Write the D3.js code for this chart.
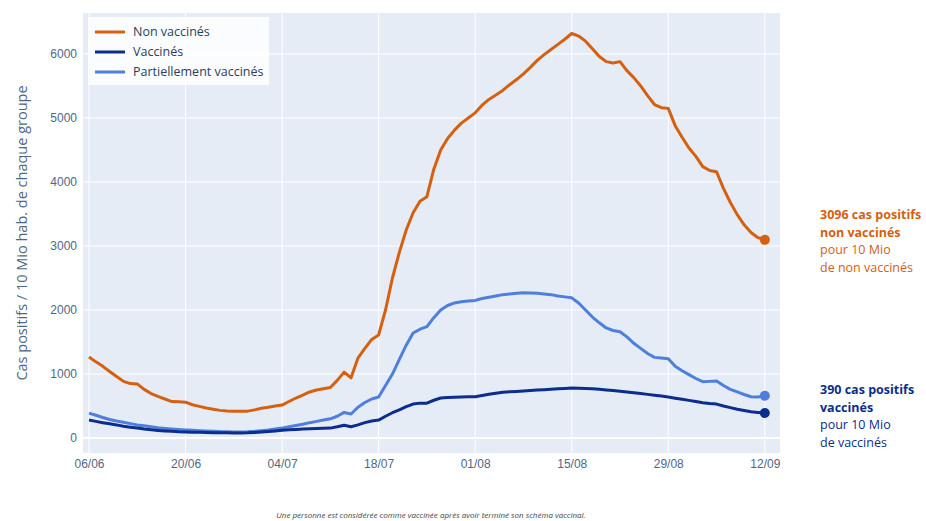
<!DOCTYPE html>
<html>
<head>
<meta charset="utf-8">
<script src="https://cdn.jsdelivr.net/npm/d3@7"></script>
<style>
  body { margin: 0; background: #fff; }
  svg { font-family: "Open Sans", "Noto Sans", sans-serif; }
  .axis text { fill: #506784; font-size: 12px; }
  .axis path, .axis line { display: none; }
  .grid line { stroke: #fff; stroke-width: 1; }
</style>
</head>
<body>
<svg id="chart"></svg>
<script>
// data, one value per day from 06/06 to 12/09 (2021)
const startDate = new Date(2021, 5, 6);
const tickLabels = ['06/06', '20/06', '04/07', '18/07', '01/08', '15/08', '29/08', '12/09'];
const yTicks = [0, 1000, 2000, 3000, 4000, 5000, 6000];

const nonVaccines = [
  1266, 1190, 1120, 1040, 960, 885, 850, 845, 760, 695,
  650, 610, 570, 565, 560, 520, 495, 470, 450, 432,
  422, 420, 420, 420, 440, 465, 480, 500, 515, 570,
  625, 670, 720, 750, 770, 790, 900, 1030, 940, 1250,
  1400, 1540, 1610, 2000, 2500, 2900, 3250, 3520, 3700, 3770,
  4200, 4500, 4680, 4810, 4920, 5000, 5080, 5200, 5290, 5360,
  5430, 5520, 5600, 5690, 5790, 5900, 5990, 6070, 6150, 6230,
  6320, 6280, 6200, 6080, 5960, 5880, 5860, 5880, 5740, 5630,
  5500, 5350, 5210, 5160, 5150, 4880, 4700, 4530, 4400, 4240,
  4180, 4160, 3900, 3680, 3490, 3330, 3210, 3130, 3096
];

const vaccines = [
  280, 260, 240, 222, 205, 185, 170, 155, 140, 128,
  118, 110, 104, 98, 95, 92, 89, 86, 84, 82,
  81, 80, 80, 82, 88, 95, 102, 110, 120, 128,
  135, 140, 145, 150, 152, 155, 175, 200, 175, 205,
  240, 265, 280, 340, 395, 440, 490, 530, 545, 545,
  590, 625, 632, 638, 642, 645, 645, 665, 685, 700,
  715, 722, 728, 735, 742, 750, 755, 762, 768, 775,
  780, 778, 775, 770, 762, 752, 742, 732, 720, 708,
  695, 682, 668, 655, 640, 622, 605, 588, 570, 552,
  538, 530, 500, 475, 450, 430, 412, 400, 390
];

const partiellement = [
  390, 355, 320, 290, 265, 245, 225, 205, 190, 175,
  160, 150, 140, 132, 125, 120, 115, 110, 105, 100,
  98, 96, 95, 98, 105, 115, 125, 140, 155, 175,
  195, 215, 240, 260, 280, 300, 340, 400, 375, 480,
  555, 610, 640, 820, 1000, 1230, 1450, 1640, 1700, 1740,
  1880, 2000, 2070, 2110, 2130, 2140, 2150, 2180, 2200, 2220,
  2240, 2250, 2260, 2270, 2265, 2260, 2250, 2240, 2220, 2205,
  2190, 2110, 2000, 1890, 1800, 1720, 1680, 1660, 1580, 1480,
  1400, 1320, 1260, 1250, 1240, 1120, 1050, 990, 930, 880,
  885, 890, 820, 760, 720, 680, 645, 640, 660
];

const seriesNames = ['Non vaccinés', 'Vaccinés', 'Partiellement vaccinés'];
const seriesColors = ['#d5600f', '#0b2d8c', '#4f7fdc'];

const dayMs = 24 * 3600 * 1000;
const dateOf = i => new Date(startDate.getTime() + i * dayMs);
const parseTick = d3.timeParse('%d/%m/%Y');

const fullWidth = 926;
const fullHeight = 521;
const margin = { top: 13, right: 146, bottom: 68, left: 83 };
const width = fullWidth - margin.left - margin.right;
const height = fullHeight - margin.top - margin.bottom;

const x = d3.scaleTime()
    .domain([new Date(startDate.getTime() - 0.87 * dayMs), new Date(dateOf(98).getTime() + 2.2 * dayMs)])
    .range([0, width]);

const y = d3.scaleLinear()
    .domain([-234, 6640])
    .range([height, 0]);

const svg = d3.select('#chart')
    .attr('width', fullWidth)
    .attr('height', fullHeight)
  .append('g')
    .attr('transform', `translate(${margin.left}, ${margin.top})`);

svg.append('rect')
    .attr('width', width)
    .attr('height', height)
    .attr('fill', '#e5ecf6');

const tickDates = tickLabels.map(t => parseTick(`${t}/2021`));

// grid
svg.append('g')
    .attr('class', 'grid')
  .selectAll('line.v')
  .data(tickDates)
  .join('line')
    .attr('x1', d => x(d))
    .attr('x2', d => x(d))
    .attr('y1', 0)
    .attr('y2', height);

svg.append('g')
    .attr('class', 'grid')
  .selectAll('line.h')
  .data(yTicks)
  .join('line')
    .attr('x1', 0)
    .attr('x2', width)
    .attr('y1', d => y(d))
    .attr('y2', d => y(d))
    .style('stroke-width', d => (d === 0 ? 2 : 1));

// axes
svg.append('g')
    .attr('class', 'axis')
    .attr('transform', `translate(0, ${height})`)
    .call(d3.axisBottom(x)
      .tickValues(tickDates)
      .tickFormat(d3.timeFormat('%d/%m'))
      .tickSize(0)
      .tickPadding(6));

svg.append('g')
    .attr('class', 'axis')
    .call(d3.axisLeft(y)
      .tickValues(yTicks)
      .tickFormat(d3.format('d'))
      .tickSize(0)
      .tickPadding(6));

svg.append('text')
    .attr('transform', `translate(${-61}, ${height / 2}) rotate(-90)`)
    .attr('text-anchor', 'middle')
    .attr('dy', '0.35em')
    .style('font-size', '14.5px')
    .style('fill', '#506784')
    .text('Cas positifs / 10 Mio hab. de chaque groupe');

// lines
const line = d3.line()
    .x((d, i) => x(dateOf(i)))
    .y(d => y(d));

const allSeries = [nonVaccines, vaccines, partiellement];
const drawOrder = [2, 1, 0];

drawOrder.forEach((k) => {
  svg.append('path')
      .datum(allSeries[k])
      .attr('fill', 'none')
      .attr('stroke', seriesColors[k])
      .attr('stroke-width', 3)
      .attr('stroke-linejoin', 'round')
      .attr('d', line);

  const last = allSeries[k].length - 1;
  svg.append('circle')
      .attr('cx', x(dateOf(last)))
      .attr('cy', y(allSeries[k][last]))
      .attr('r', 5)
      .attr('fill', seriesColors[k]);
});

// legend
const legend = svg.append('g')
    .attr('transform', 'translate(5, 4)');

legend.append('rect')
    .attr('width', 181)
    .attr('height', 68)
    .attr('fill', '#fff')
    .attr('fill-opacity', 0.85);

seriesNames.forEach((name, i) => {
  const row = legend.append('g')
      .attr('transform', `translate(0, ${15 + i * 20})`);
  row.append('line')
      .attr('x1', 7)
      .attr('x2', 37)
      .attr('stroke', seriesColors[i])
      .attr('stroke-width', 3);
  row.append('text')
      .attr('x', 45)
      .attr('dy', '0.35em')
      .style('font-size', '12.5px')
      .style('fill', '#2a3f5f')
      .text(name);
});

// end annotations
const notes = [
  { lines: ['3096 cas positifs', 'non vaccinés', 'pour 10 Mio', 'de non vaccinés'], color: '#d5600f', top: 219 },
  { lines: ['390 cas positifs', 'vaccinés', 'pour 10 Mio', 'de vaccinés'], color: '#0b2d8c', top: 394 }
];

notes.forEach((n) => {
  const t = d3.select('#chart').append('text')
      .attr('x', 820)
      .attr('y', n.top)
      .style('font-size', '12.5px')
      .style('fill', n.color);
  n.lines.forEach((l, i) => {
    t.append('tspan')
        .attr('x', 820)
        .attr('dy', i === 0 ? 0 : '1.4em')
        .style('font-weight', i < 2 ? 700 : 400)
        .text(l);
  });
});

d3.select('#chart').append('text')
    .attr('x', 431)
    .attr('y', 518)
    .attr('text-anchor', 'middle')
    .style('font-size', '8px')
    .style('font-style', 'italic')
    .style('fill', '#444')
    .text('Une personne est considérée comme vaccinée après avoir terminé son schéma vaccinal.');
</script>
</body>
</html>
